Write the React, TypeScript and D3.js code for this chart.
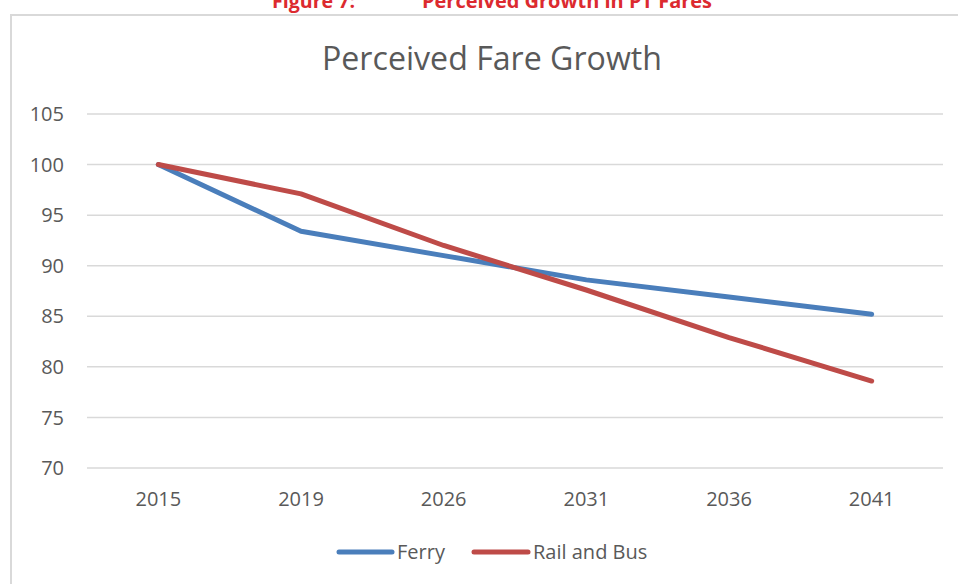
import React from "react";
import * as d3 from "d3";

const categories = ["2015", "2019", "2026", "2031", "2036", "2041"];
const ferry = [100, 93.4, 91.0, 88.6, 86.9, 85.2];
const railBus = [100, 97.1, 92.0, 87.6, 82.9, 78.6];
const yTicks = [70, 75, 80, 85, 90, 95, 100, 105];
const seriesNames = ["Ferry", "Rail and Bus"];
const seriesColors = ["#4a7ebb", "#be4b48"];

const W = 958;
const H = 584;
const FONT = "'Open Sans', 'DejaVu Sans', sans-serif";
const TEXT = "#595959";

export default function App() {
  const x = d3.scaleBand<string>().domain(categories).range([87, 943]).padding(0);
  const y = d3.scaleLinear().domain([70, 105]).range([468, 114]);
  const cx = (c: string) => (x(c) as number) + x.bandwidth() / 2;
  const line = d3
    .line<number>()
    .x((_, i) => cx(categories[i]))
    .y((v) => y(v));
  const series = [ferry, railBus];

  return (
    <svg
      width={W}
      height={H}
      style={{ position: "absolute", left: 0, top: 0, background: "#fff" }}
      fontFamily={FONT}
    >
      <rect x={0} y={0} width={W} height={H} fill="#fff" />
      {/* caption */}
      <text x={272} y={8} fill="#dc2a2f" fontWeight="bold" fontSize={20} textLength={83} lengthAdjust="spacingAndGlyphs">
        Figure 7:
      </text>
      <text x={422} y={8} fill="#dc2a2f" fontWeight="bold" fontSize={20} textLength={290} lengthAdjust="spacingAndGlyphs">
        Perceived Growth in PT Fares
      </text>
      {/* frame */}
      <rect x={11} y={15} width={W + 20} height={H + 20} fill="none" stroke="#d9d9d9" strokeWidth={2} />
      {/* title */}
      <text x={322} y={70} fill={TEXT} fontSize={32} textLength={340} lengthAdjust="spacingAndGlyphs">
        Perceived Fare Growth
      </text>
      {/* grid + y labels */}
      {yTicks.map((t) => (
        <g key={t}>
          <line x1={87} x2={943} y1={y(t)} y2={y(t)} stroke="#d9d9d9" strokeWidth={1.5} />
          <text x={64} y={y(t)} dy="0.36em" textAnchor="end" fill={TEXT} fontSize={20}>
            {t}
          </text>
        </g>
      ))}
      {/* x labels */}
      {categories.map((c) => (
        <text key={c} x={cx(c)} y={506} textAnchor="middle" fill={TEXT} fontSize={20}>
          {c}
        </text>
      ))}
      {/* lines */}
      {series.map((s, i) => (
        <path
          key={i}
          d={line(s) as string}
          fill="none"
          stroke={seriesColors[i]}
          strokeWidth={5}
          strokeLinecap="round"
          strokeLinejoin="round"
        />
      ))}
      {/* legend */}
      <g>
        <line x1={339} x2={392} y1={552} y2={552} stroke={seriesColors[0]} strokeWidth={5} strokeLinecap="round" />
        <text x={397} y={559} fill={TEXT} fontSize={20}>
          {seriesNames[0]}
        </text>
        <line x1={474} x2={528} y1={552} y2={552} stroke={seriesColors[1]} strokeWidth={5} strokeLinecap="round" />
        <text x={533} y={559} fill={TEXT} fontSize={20}>
          {seriesNames[1]}
        </text>
      </g>
    </svg>
  );
}
